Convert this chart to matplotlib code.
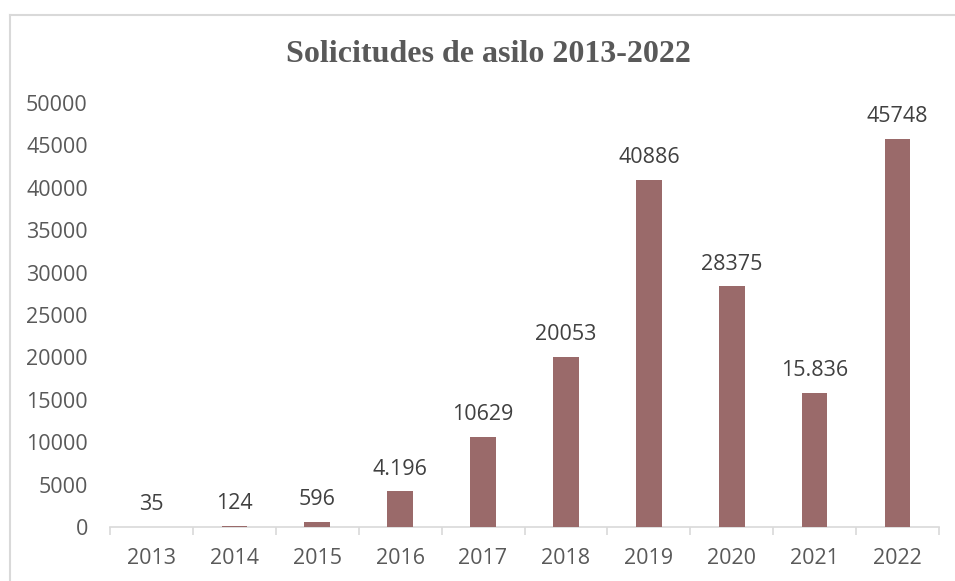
import matplotlib
matplotlib.use("Agg")
import matplotlib.pyplot as plt
from matplotlib.lines import Line2D

years = ["2013", "2014", "2015", "2016", "2017", "2018", "2019", "2020", "2021", "2022"]
values = [35, 124, 596, 4196, 10629, 20053, 40886, 28375, 15836, 45748]
labels = ["35", "124", "596", "4.196", "10629", "20053", "40886", "28375", "15.836", "45748"]
yticks = [0, 5000, 10000, 15000, 20000, 25000, 30000, 35000, 40000, 45000, 50000]
title = "Solicitudes de asilo 2013-2022"

fig = plt.figure(figsize=(9.55, 5.81), dpi=100)
ax = fig.add_axes([110/955, 54/581, (939-110)/955, 424/581])

x = list(range(len(years)))
bars = ax.bar(x, values, width=0.31, color="#9A6A6A", zorder=3)
ax.set_xlim(-0.5, len(years) - 0.5)
ax.set_ylim(0, 50000)
ax.set_yticks(yticks)
ax.set_yticklabels([str(t) for t in yticks], fontsize=15.5, color="#595959", family="Open Sans")
ax.set_xticks(x)
ax.set_xticklabels(years, fontsize=15.5, color="#595959", family="Open Sans")
ax.tick_params(axis="y", length=0, pad=16)
ax.tick_params(axis="x", length=0, pad=15)
# category boundary ticks
ax.set_xticks([i - 0.5 for i in range(len(years) + 1)], minor=True)
ax.tick_params(axis="x", which="minor", length=6, color="#d9d9d9", width=1.2)
for s in ["top", "right", "left"]:
    ax.spines[s].set_visible(False)
ax.spines["bottom"].set_color("#d9d9d9")
ax.spines["bottom"].set_linewidth(1.2)

for xi, v, lab in zip(x, values, labels):
    ax.annotate(lab, (xi, v), xytext=(0, 8.5), textcoords="offset points",
                ha="center", va="bottom", fontsize=15.5, color="#404040", family="Open Sans")

fig.text(0.511, 1 - 55/581, title, ha="center", va="center", fontsize=23,
         fontweight="bold", family="Liberation Serif", color="#595959")

# chart border (top and left visible)
fig.add_artist(Line2D([9.5/955, 1], [1 - 14.5/581, 1 - 14.5/581], color="#d9d9d9", lw=1.5))
fig.add_artist(Line2D([9.5/955, 9.5/955], [0, 1 - 14.5/581], color="#d9d9d9", lw=1.5))

fig.savefig("out.png", dpi=100)
